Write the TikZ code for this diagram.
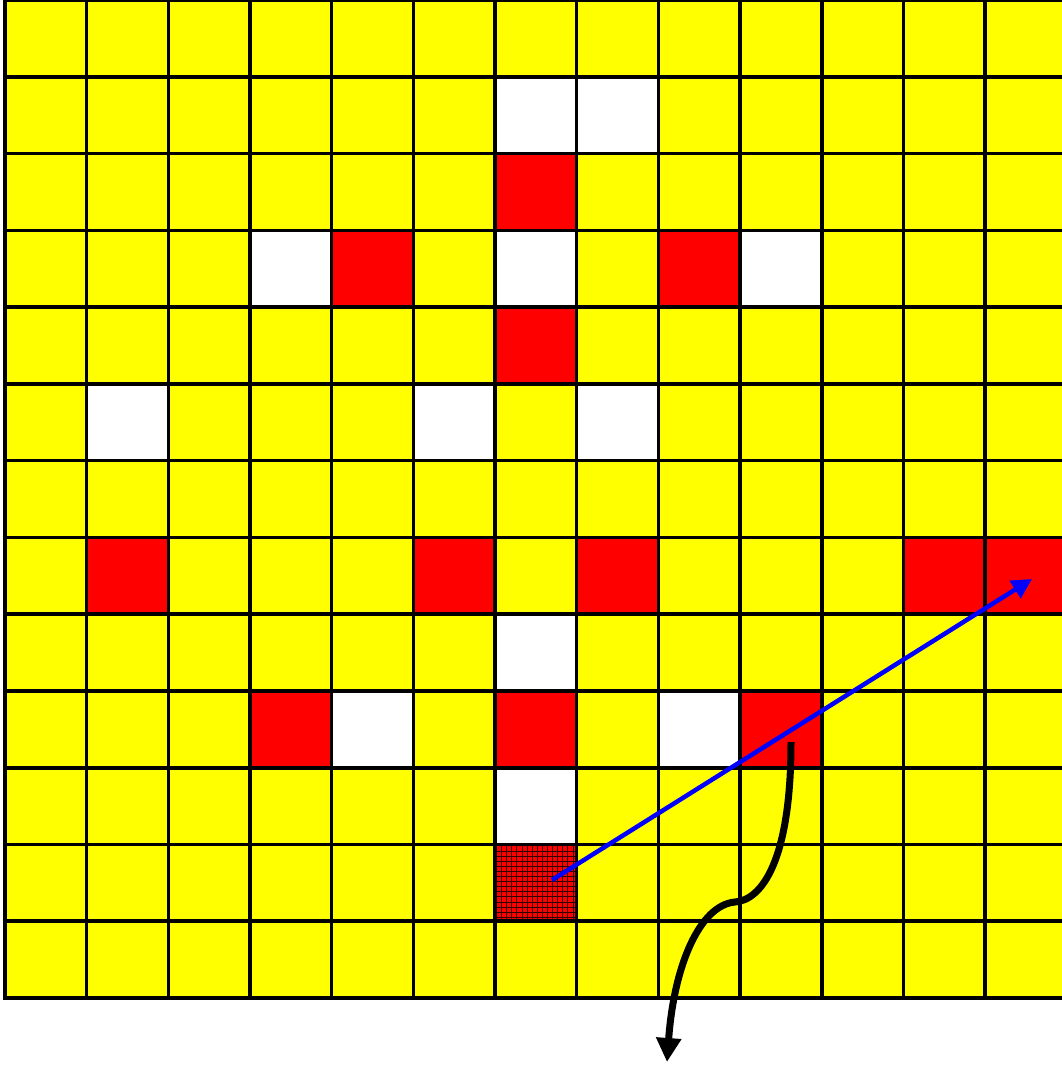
\documentclass[tikz,border=0pt]{standalone}
\usetikzlibrary{arrows.meta}
\definecolor{cellyellow}{RGB}{255,255,0}
\definecolor{cellred}{RGB}{255,0,0}
\definecolor{arrowblue}{RGB}{0,0,255}
\begin{document}
\begin{tikzpicture}[x=1pt,y=-1pt,
  gridline/.style={line width=3.6pt,black},
  hatchline/.style={line width=1pt,black!80!red},
  blueconn/.style={line width=4.5pt,arrowblue,-{Triangle[length=20pt,width=20pt]}},
  blackconn/.style={line width=7pt,black,-{Triangle[length=24pt,width=24pt]}}]
\useasboundingbox (0,0) rectangle (1062,1065);
\def\cw{81.67}
\def\rh{76.77}
\begin{scope}
\clip (0,0) rectangle (1062,1002);
\fill[cellyellow] (5,0) rectangle (1080,998);
\foreach \c/\r in {6/1,7/1,3/3,6/3,9/3,1/5,5/5,7/5,6/8,4/9,8/9,6/10}
  \fill[white] ({5+\cw*\c},{\rh*\r}) rectangle ({5+\cw*(\c+1)},{\rh*(\r+1)});
\foreach \c/\r in {6/2,4/3,8/3,6/4,1/7,5/7,7/7,11/7,12/7,3/9,6/9,9/9}
  \fill[cellred] ({5+\cw*\c},{\rh*\r}) rectangle ({5+\cw*(\c+1)},{\rh*(\r+1)});
% hatched cell
\begin{scope}
\clip ({5+\cw*6},{\rh*11}) rectangle ({5+\cw*7},{\rh*12});
\fill[cellred] ({5+\cw*6},{\rh*11}) rectangle ({5+\cw*7},{\rh*12});
\foreach \k in {0,...,17} {
  \draw[hatchline] ({5+\cw*6+1.5+5.1*\k},{\rh*11}) -- ({5+\cw*6+1.5+5.1*\k},{\rh*12});
  \draw[hatchline] ({5+\cw*6},{\rh*11+1.5+5.1*\k}) -- ({5+\cw*7},{\rh*11+1.5+5.1*\k});
}
\end{scope}
\foreach \i in {0,...,13}
  \draw[gridline] ({5+\cw*\i},-2) -- ({5+\cw*\i},{998+1.8});
\foreach \j in {0,...,13}
  \draw[gridline] (3.2,{\rh*\j}) -- (1080,{\rh*\j});
\end{scope}
% connectors
\coordinate (bstart) at (552,880);
\coordinate (bend) at (1032,579);
\draw[blueconn] (bstart) -- (bend);
\coordinate (kstart) at (791,742);
\coordinate (kmid) at (735,902);
\coordinate (kend) at (667,1062);
\draw[blackconn] (kstart) .. controls (791,860) and (762,900) .. (kmid)
  .. controls (700,905) and (674,965) .. (kend);
\end{tikzpicture}
\end{document}
